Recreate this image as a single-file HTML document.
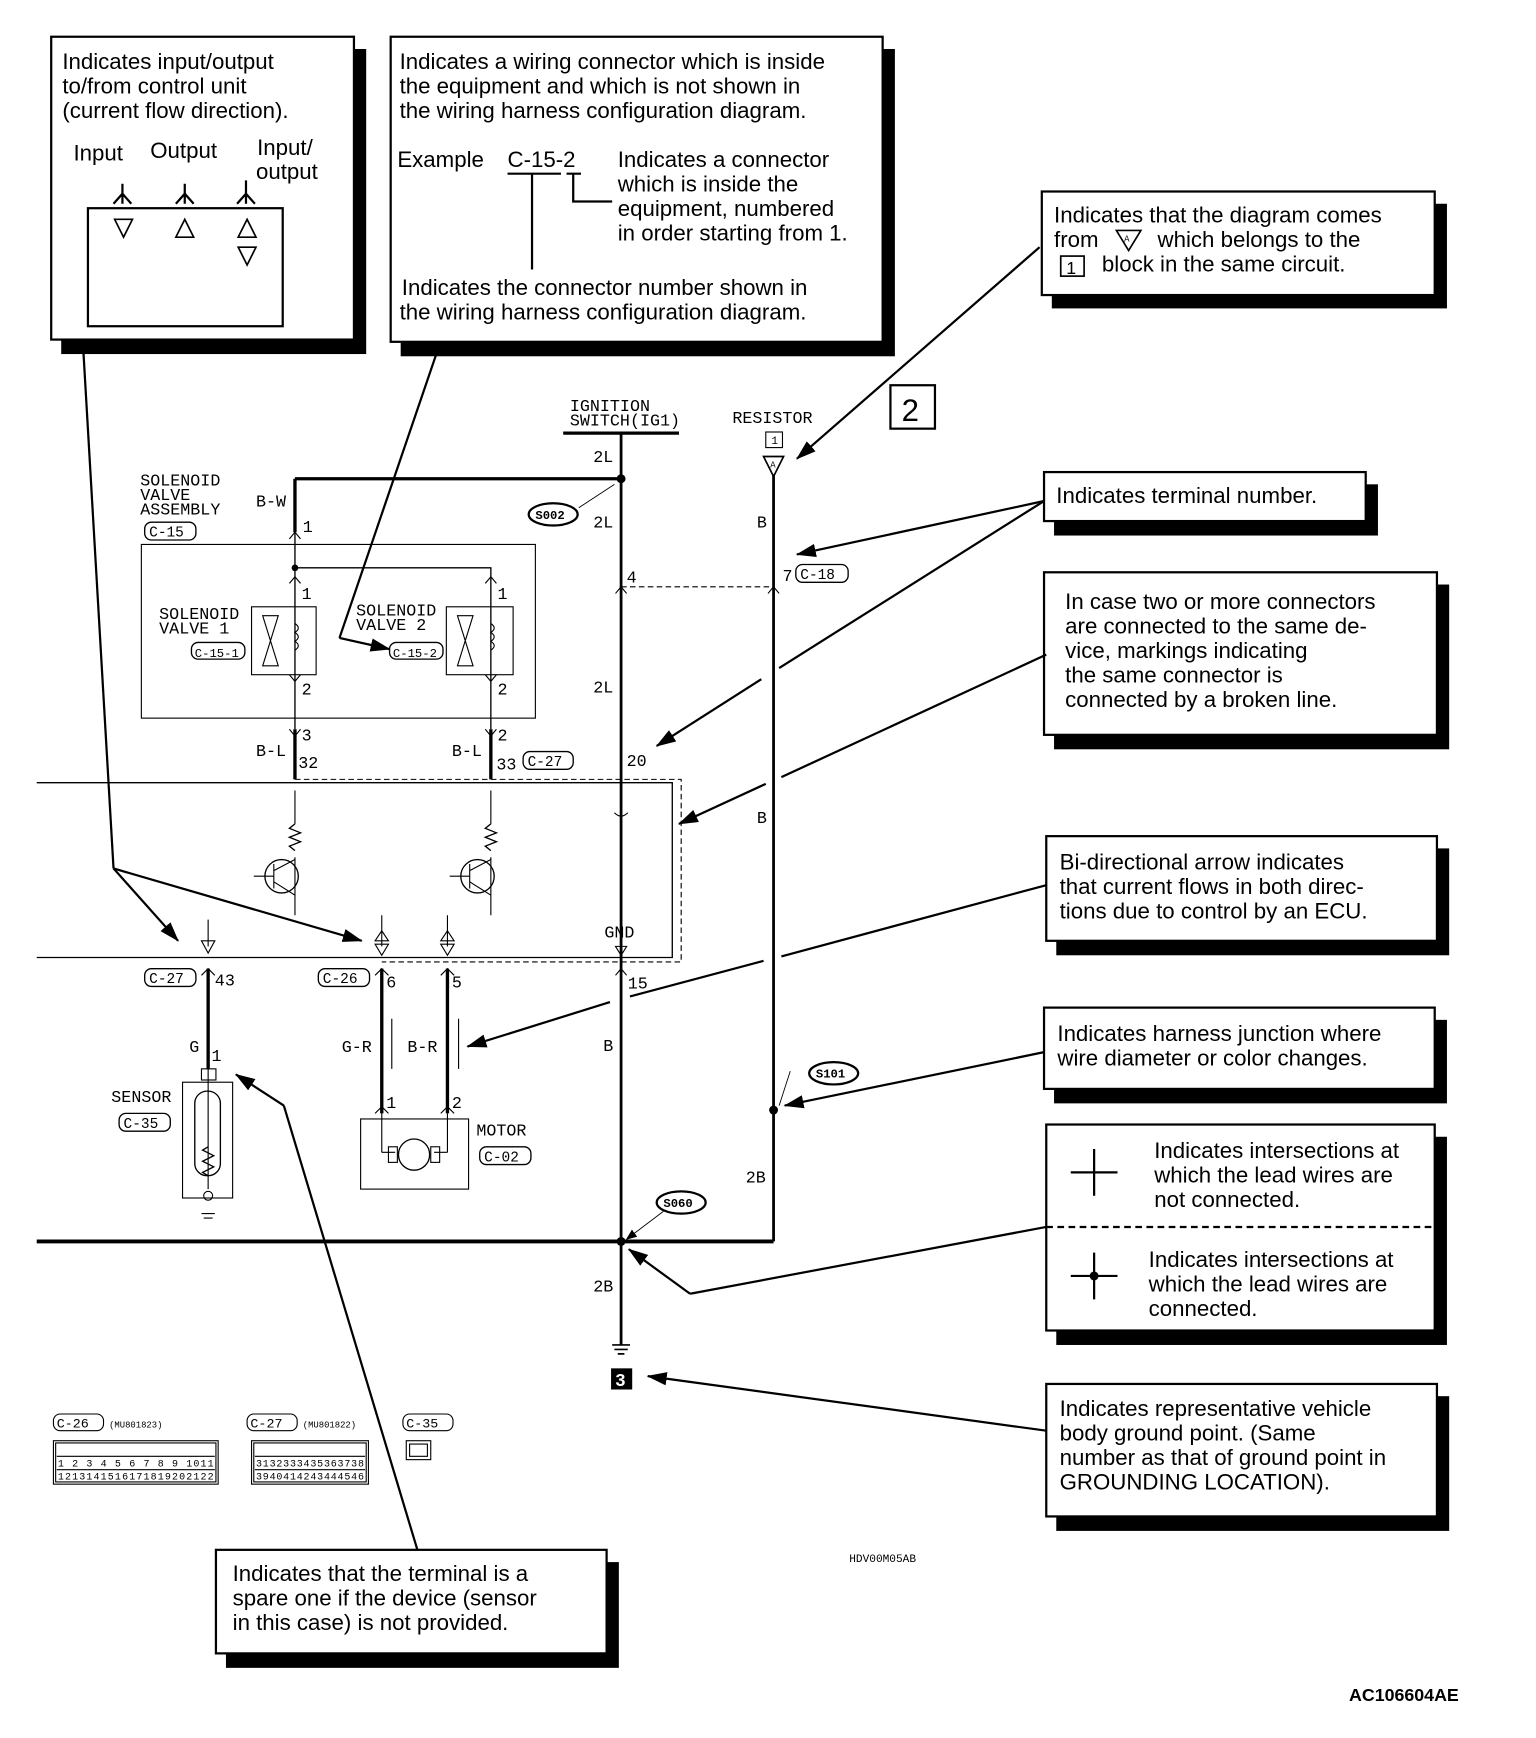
<!DOCTYPE html>
<html><head><meta charset="utf-8"><style>
html,body{margin:0;padding:0;background:#fff;}
svg{display:block}
.t{font-family:"Liberation Sans",sans-serif;font-size:20px;fill:#000}
.m{font-family:"Liberation Mono",monospace;font-size:15px;fill:#000}
.s{font-family:"Liberation Mono",monospace;font-size:8px;fill:#000}
</style></head><body>
<svg width="1536" height="1738" viewBox="0 0 1380 1561" preserveAspectRatio="none" xmlns="http://www.w3.org/2000/svg">
<defs>
<marker id="ar" markerWidth="10" markerHeight="8" refX="9" refY="4" orient="auto" markerUnits="userSpaceOnUse"><path d="M0,0 L10,4 L0,8 z" fill="#000"/></marker>
<marker id="ar2" markerWidth="18" markerHeight="12" refX="17" refY="6" orient="auto" markerUnits="userSpaceOnUse"><path d="M0,0 L18,6 L0,12 z" fill="#000"/></marker>
</defs>
<rect width="1380" height="1561" fill="#fff"/>

<!-- callout boxes with shadows -->
<g stroke="#000" stroke-width="2">
<rect x="56" y="45" width="272" height="272" fill="#000"/><rect x="46" y="33" width="272" height="272" fill="#fff"/>
<rect x="361" y="45" width="442" height="274" fill="#000"/><rect x="351" y="33" width="442" height="274" fill="#fff"/>
<rect x="946" y="184" width="353" height="92" fill="#000"/><rect x="936" y="172" width="353" height="93" fill="#fff"/>
<rect x="948" y="436" width="289" height="44" fill="#000"/><rect x="938" y="424" width="289" height="44" fill="#fff"/>
<rect x="948" y="526" width="353" height="146" fill="#000"/><rect x="938" y="514" width="353" height="146" fill="#fff"/>
<rect x="950" y="763" width="351" height="94" fill="#000"/><rect x="940" y="751" width="351" height="94" fill="#fff"/>
<rect x="948" y="917" width="351" height="73" fill="#000"/><rect x="938" y="905" width="351" height="73" fill="#fff"/>
<rect x="950" y="1022" width="349" height="185" fill="#000"/><rect x="940" y="1010" width="349" height="185" fill="#fff"/>
<rect x="950" y="1255" width="351" height="119" fill="#000"/><rect x="940" y="1243" width="351" height="119" fill="#fff"/>
<rect x="204" y="1404" width="351" height="93" fill="#000"/><rect x="194" y="1392" width="351" height="93" fill="#fff"/>
</g>

<!-- box1 -->
<text class="t" x="56" y="62">Indicates input/output</text>
<text class="t" x="56" y="84">to/from control unit</text>
<text class="t" x="56" y="106">(current flow direction).</text>
<text class="t" x="66" y="144">Input</text>
<text class="t" x="135" y="142">Output</text>
<text class="t" x="231" y="139">Input/</text>
<text class="t" x="230" y="161">output</text>
<g stroke="#000" stroke-width="2" fill="none">
<rect x="79" y="187" width="175" height="106"/>
<path d="M110,165 V183 M102,183 L110,174 L118,183 M166,165 V183 M158,183 L166,174 L174,183 M221,162 V183 M213,183 L221,174 L229,183"/>
<path d="M103,197 L119,197 L111,213 Z M158,213 L174,213 L166,197 Z M214,213 L230,213 L222,197 Z M214,222 L230,222 L222,238 Z" stroke-width="1.5"/>
</g>

<!-- box2 -->
<text class="t" x="359" y="62">Indicates a wiring connector which is inside</text>
<text class="t" x="359" y="84">the equipment and which is not shown in</text>
<text class="t" x="359" y="106">the wiring harness configuration diagram.</text>
<text class="t" x="357" y="150">Example</text>
<text class="t" x="456" y="150">C-15-2</text>
<text class="t" x="555" y="150">Indicates a connector</text>
<text class="t" x="555" y="172">which is inside the</text>
<text class="t" x="555" y="194">equipment, numbered</text>
<text class="t" x="555" y="216">in order starting from 1.</text>
<text class="t" x="361" y="265">Indicates the connector number shown in</text>
<text class="t" x="359" y="287">the wiring harness configuration diagram.</text>
<path d="M456,156 H504 M478,156 V242 M509,156 H522 M515,156 V181 H550" stroke="#000" stroke-width="2" fill="none"/>

<!-- box3 -->
<text class="t" x="947" y="200">Indicates that the diagram comes</text>
<text class="t" x="947" y="222">from</text>
<path d="M1003,207 L1025,207 L1014,225 Z" fill="none" stroke="#000" stroke-width="1.5"/><text class="s" x="1010" y="217">A</text>
<text class="t" x="1040" y="222">which belongs to the</text>
<rect x="953" y="230" width="21" height="18" fill="none" stroke="#000" stroke-width="1.5"/><text class="t" x="958" y="246" style="font-size:16px">1</text>
<text class="t" x="990" y="244">block in the same circuit.</text>

<text class="t" x="949" y="452">Indicates terminal number.</text>

<text class="t" x="957" y="547">In case two or more connectors</text>
<text class="t" x="957" y="569">are connected to the same de-</text>
<text class="t" x="957" y="591">vice, markings indicating</text>
<text class="t" x="957" y="613">the same connector is</text>
<text class="t" x="957" y="635">connected by a broken line.</text>

<text class="t" x="952" y="781">Bi-directional arrow indicates</text>
<text class="t" x="952" y="803">that current flows in both direc-</text>
<text class="t" x="952" y="825">tions due to control by an ECU.</text>

<text class="t" x="950" y="935">Indicates harness junction where</text>
<text class="t" x="950" y="957">wire diameter or color changes.</text>

<path d="M962,1053 H1004 M983,1032 V1074" stroke="#000" stroke-width="2"/>
<text class="t" x="1037" y="1040">Indicates intersections at</text>
<text class="t" x="1037" y="1062">which the lead wires are</text>
<text class="t" x="1037" y="1084">not connected.</text>
<path d="M940,1102 H1289" stroke="#000" stroke-width="2" stroke-dasharray="6,4"/>
<path d="M962,1146 H1004 M983,1125 V1167" stroke="#000" stroke-width="2"/><circle cx="983" cy="1146" r="4"/>
<text class="t" x="1032" y="1138">Indicates intersections at</text>
<text class="t" x="1032" y="1160">which the lead wires are</text>
<text class="t" x="1032" y="1182">connected.</text>

<text class="t" x="952" y="1272">Indicates representative vehicle</text>
<text class="t" x="952" y="1294">body ground point. (Same</text>
<text class="t" x="952" y="1316">number as that of ground point in</text>
<text class="t" x="952" y="1338">GROUNDING LOCATION).</text>

<text class="t" x="209" y="1420">Indicates that the terminal is a</text>
<text class="t" x="209" y="1442">spare one if the device (sensor</text>
<text class="t" x="209" y="1464">in this case) is not provided.</text>

<text x="1212" y="1528" style="font-family:'Liberation Sans',sans-serif;font-weight:bold;font-size:16px">AC106604AE</text>
<text class="s" x="763" y="1403" style="font-size:10px">HDV00M05AB</text>

<!-- wiring -->
<g stroke="#000" fill="none">
<path d="M506,389 H610" stroke-width="3"/>
<path d="M558,389 V1208" stroke-width="2.5"/>
<path d="M265,430 H558 M265,430 V478" stroke-width="3"/>
<path d="M265,478 V655 M265,510 H441 V655" stroke-width="1.2"/>
<path d="M265,655 V700 M441,655 V700" stroke-width="3"/>
<rect x="127" y="489" width="354" height="156" stroke-width="1"/>
<rect x="226" y="545" width="58" height="61" stroke-width="1"/>
<rect x="401" y="545" width="60" height="61" stroke-width="1"/>
<path d="M695,426 V1115" stroke-width="2.5"/>
<path d="M33,1115 H695" stroke-width="3.5"/>
<path d="M558,527 H695" stroke-width="1" stroke-dasharray="5,3"/>
<path d="M33,703 H604 V860 H33" stroke-width="1.2"/>
<path d="M265,700 H612 V864 H343" stroke-width="1" stroke-dasharray="5,3"/>
<path d="M187,870 V960 M343,870 V1000 M402,870 V1000" stroke-width="3"/>
<rect x="164" y="972" width="45" height="104" stroke-width="1"/>
<rect x="175" y="980" width="23" height="76" rx="11" stroke-width="1.2"/>
<path d="M187,960 V1068 M181,1090 H193 M183,1094 H191" stroke-width="1"/>
<circle cx="187" cy="1074" r="4" stroke-width="1"/>
<path d="M187,1030 l-5,3 10,5 -10,5 10,5 -10,5 5,3" stroke-width="1.2"/>
<rect x="181" y="960" width="13" height="10" stroke-width="1"/>
<rect x="324" y="1005" width="97" height="63" stroke-width="1"/>
<path d="M343,1000 V1035 M402,1000 V1035 M343,1035 H355 M402,1035 H390" stroke-width="1"/>
<rect x="349" y="1030" width="8" height="14" stroke-width="1"/><rect x="387" y="1030" width="8" height="14" stroke-width="1"/>
<circle cx="372" cy="1037" r="14" stroke-width="1.2"/>
<!-- ECU internals -->
<path d="M265,710 V740 M441,710 V740 M265,770 V822 M441,770 V822" stroke-width="1"/>
<path d="M265,740 l-5,4 10,4 -10,4 10,4 -10,4 5,4 M441,740 l-5,4 10,4 -10,4 10,4 -10,4 5,4" stroke-width="1.2"/>
<circle cx="253" cy="787" r="15" stroke-width="1.2"/><circle cx="429" cy="787" r="15" stroke-width="1.2"/>
<path d="M246,776 V798 M228,787 H246 M246,782 L265,772 M246,792 L265,804 M422,776 V798 M404,787 H422 M422,782 L441,772 M422,792 L441,804" stroke-width="1"/>
<path d="M558,710 V730 M552,730 Q558,736 564,730" stroke-width="1"/>
<path d="M187,826 V850 M343,822 V850 M402,822 V850" stroke-width="1"/>
<path d="M181,845 L193,845 L187,856 Z M337,848 L349,848 L343,858 Z M337,845 L349,845 L343,836 Z M396,848 L408,848 L402,858 Z M396,845 L408,845 L402,836 Z M553,850 L563,850 L558,858 Z" stroke-width="1"/>
<!-- connectors marks -->
<path d="M260,484 L265,478 L270,484 M260,524 L265,518 L270,524 M260,606 L265,612 L270,606 M260,655 L265,661 L270,655 M436,524 L441,518 L446,524 M436,606 L441,612 L446,606 M436,655 L441,661 L446,655 M553,533 L558,527 L563,533 M690,533 L695,527 L700,533 M181,876 L187,870 L193,876 M337,876 L343,870 L349,876 M396,876 L402,870 L408,876 M553,876 L558,870 L563,876 M337,1000 L343,994 L349,1000 M396,1000 L402,994 L408,1000" stroke-width="1"/>
<path d="M352,915 V960 M412,915 V960" stroke-width="1"/>
<!-- valves -->
<path d="M236,553 L250,553 L236,598 L250,598 Z M411,553 L425,553 L411,598 L425,598 Z" stroke-width="1"/>
<path d="M265,560 q6,4 0,8 q6,4 0,8 q6,4 0,8 M441,560 q6,4 0,8 q6,4 0,8 q6,4 0,8" stroke-width="1"/>
<!-- ground -->
<path d="M558,1208 V1200 M550,1208 H566 M552,1212 H564 M555,1216 H561" stroke-width="1.5"/>
</g>
<circle cx="558" cy="430" r="4"/><circle cx="265" cy="510" r="3"/><circle cx="695" cy="997" r="4"/><circle cx="558" cy="1115" r="4"/>
<rect x="549" y="1229" width="19" height="19" fill="#000"/><text x="553" y="1245" style="font-family:'Liberation Sans',sans-serif;font-weight:bold;font-size:16px;fill:#fff">3</text>
<rect x="800" y="346" width="40" height="39" fill="none" stroke="#000" stroke-width="2"/><text x="810" y="378" style="font-family:'Liberation Sans',sans-serif;font-size:28px">2</text>
<rect x="688" y="388" width="15" height="14" fill="none" stroke="#000" stroke-width="1"/><text class="s" x="693" y="399" style="font-size:10px">1</text>
<path d="M686,410 L704,410 L695,428 Z" fill="none" stroke="#000" stroke-width="1.5"/><text class="s" x="692" y="420">A</text>

<!-- labels -->
<g class="m">
<text class="m" x="512" y="369">IGNITION</text><text class="m" x="512" y="382">SWITCH(IG1)</text>
<text class="m" x="658" y="380">RESISTOR</text>
<text class="m" x="533" y="415">2L</text><text class="m" x="533" y="474">2L</text><text class="m" x="533" y="622">2L</text>
<text class="m" x="680" y="474">B</text><text class="m" x="680" y="739">B</text><text class="m" x="542" y="944">B</text><text class="m" x="670" y="1062">2B</text><text class="m" x="533" y="1160">2B</text>
<text class="m" x="126" y="436">SOLENOID</text><text class="m" x="126" y="449">VALVE</text><text class="m" x="126" y="462">ASSEMBLY</text>
<text class="m" x="230" y="455">B-W</text><text class="m" x="272" y="478">1</text>
<text class="m" x="143" y="556">SOLENOID</text><text class="m" x="143" y="569">VALVE  1</text>
<text class="m" x="320" y="553">SOLENOID</text><text class="m" x="320" y="566">VALVE  2</text>
<text class="m" x="271" y="538">1</text><text class="m" x="447" y="538">1</text><text class="m" x="271" y="624">2</text><text class="m" x="447" y="624">2</text>
<text class="m" x="271" y="665">3</text><text class="m" x="447" y="665">2</text>
<text class="m" x="230" y="679">B-L</text><text class="m" x="406" y="679">B-L</text>
<text class="m" x="268" y="690">32</text><text class="m" x="446" y="691">33</text><text class="m" x="563" y="688">20</text>
<text class="m" x="563" y="523">4</text><text class="m" x="703" y="522">7</text>
<text class="m" x="543" y="842">GND</text>
<text class="m" x="193" y="885">43</text><text class="m" x="347" y="887">6</text><text class="m" x="406" y="887">5</text><text class="m" x="564" y="888">15</text>
<text class="m" x="170" y="945">G</text><text class="m" x="190" y="953">1</text>
<text class="m" x="307" y="945">G-R</text><text class="m" x="366" y="945">B-R</text>
<text class="m" x="347" y="995">1</text><text class="m" x="406" y="995">2</text>
<text class="m" x="100" y="990">SENSOR</text><text class="m" x="428" y="1020">MOTOR</text>
</g>
<g fill="none" stroke="#000" stroke-width="1.2">
<rect x="130" y="469" width="46" height="16" rx="6"/><rect x="172" y="577" width="48" height="15" rx="6"/><rect x="350" y="577" width="48" height="15" rx="6"/>
<rect x="715" y="507" width="47" height="16" rx="6"/><rect x="470" y="675" width="45" height="16" rx="6"/>
<rect x="130" y="870" width="46" height="16" rx="6"/><rect x="286" y="870" width="46" height="16" rx="6"/>
<rect x="107" y="1000" width="46" height="16" rx="6"/><rect x="431" y="1030" width="46" height="16" rx="6"/>
<ellipse cx="497" cy="462" rx="22" ry="10" stroke-width="2"/><ellipse cx="749" cy="964" rx="22" ry="10" stroke-width="2"/><ellipse cx="612" cy="1080" rx="22" ry="10" stroke-width="2"/>
</g>
<g class="m" style="font-size:13px">
<text x="134" y="482">C-15</text><text x="175" y="590" style="font-size:11px">C-15-1</text><text x="353" y="590" style="font-size:11px">C-15-2</text>
<text x="719" y="520">C-18</text><text x="474" y="688">C-27</text><text x="134" y="883">C-27</text><text x="290" y="883">C-26</text>
<text x="111" y="1013">C-35</text><text x="435" y="1043">C-02</text>
<text x="481" y="466" style="font-size:11px;font-weight:bold">S002</text><text x="733" y="968" style="font-size:11px;font-weight:bold">S101</text><text x="596" y="1084" style="font-size:11px;font-weight:bold">S060</text>
</g>
<path d="M520,456 L552,435 M710,962 L700,993 M596,1088 L563,1113" stroke="#000" stroke-width="0.8" marker-end="url(#ar)"/>

<!-- bottom connector tables -->
<g fill="none" stroke="#000" stroke-width="1">
<rect x="48" y="1270" width="45" height="15" rx="6"/><rect x="222" y="1270" width="45" height="15" rx="6"/><rect x="362" y="1270" width="45" height="15" rx="6"/>
<rect x="48" y="1294" width="148" height="39"/><rect x="50" y="1296" width="144" height="35"/>
<rect x="226" y="1294" width="105" height="39"/><rect x="228" y="1296" width="101" height="35"/>
<path d="M51,1308 H193 M51,1320 H193 M229,1308 H328 M229,1320 H328"/>
<rect x="365" y="1294" width="22" height="17"/><rect x="368" y="1297" width="16" height="11"/>
</g>
<g class="s" style="font-size:12px"><text x="51" y="1282">C-26</text><text x="225" y="1282">C-27</text><text x="365" y="1282">C-35</text></g>
<text class="s" x="98" y="1282">(MU801823)</text><text class="s" x="272" y="1282">(MU801822)</text>
<text class="s" x="52" y="1317" textLength="140" style="font-size:9px">1 2 3 4 5 6 7 8 9 1011</text>
<text class="s" x="52" y="1329" textLength="140" style="font-size:9px">1213141516171819202122</text>
<text class="s" x="230" y="1317" textLength="97" style="font-size:9px">3132333435363738</text>
<text class="s" x="230" y="1329" textLength="97" style="font-size:9px">3940414243444546</text>

<!-- leader lines -->
<g stroke="#000" stroke-width="2" fill="none">
<path d="M75,317 L102,780"/>
<path d="M102,780 L160,845" marker-end="url(#ar2)"/>
<path d="M102,780 L325,845" marker-end="url(#ar2)"/>
<path d="M392,318 L305,573"/>
<path d="M305,573 L350,583" marker-end="url(#ar2)"/>
<path d="M934,222 L716,412" marker-end="url(#ar2)"/>
<path d="M938,450 L716,498" marker-end="url(#ar2)"/>
<path d="M938,450 L700,600"/>
<path d="M684,610 L590,670" marker-end="url(#ar2)"/>
<path d="M940,588 L702,698"/>
<path d="M688,704 L610,740" marker-end="url(#ar2)"/>
<path d="M940,795 L702,859"/>
<path d="M686,863 L566,895"/>
<path d="M548,900 L420,940" marker-end="url(#ar2)"/>
<path d="M938,945 L705,993" marker-end="url(#ar2)"/>
<path d="M940,1102 L620,1162"/>
<path d="M620,1162 L565,1122" marker-end="url(#ar2)"/>
<path d="M940,1285 L582,1236" marker-end="url(#ar2)"/>
<path d="M375,1392 L255,993"/>
<path d="M255,993 L212,965" marker-end="url(#ar2)"/>
</g>
</svg>
</body></html>
